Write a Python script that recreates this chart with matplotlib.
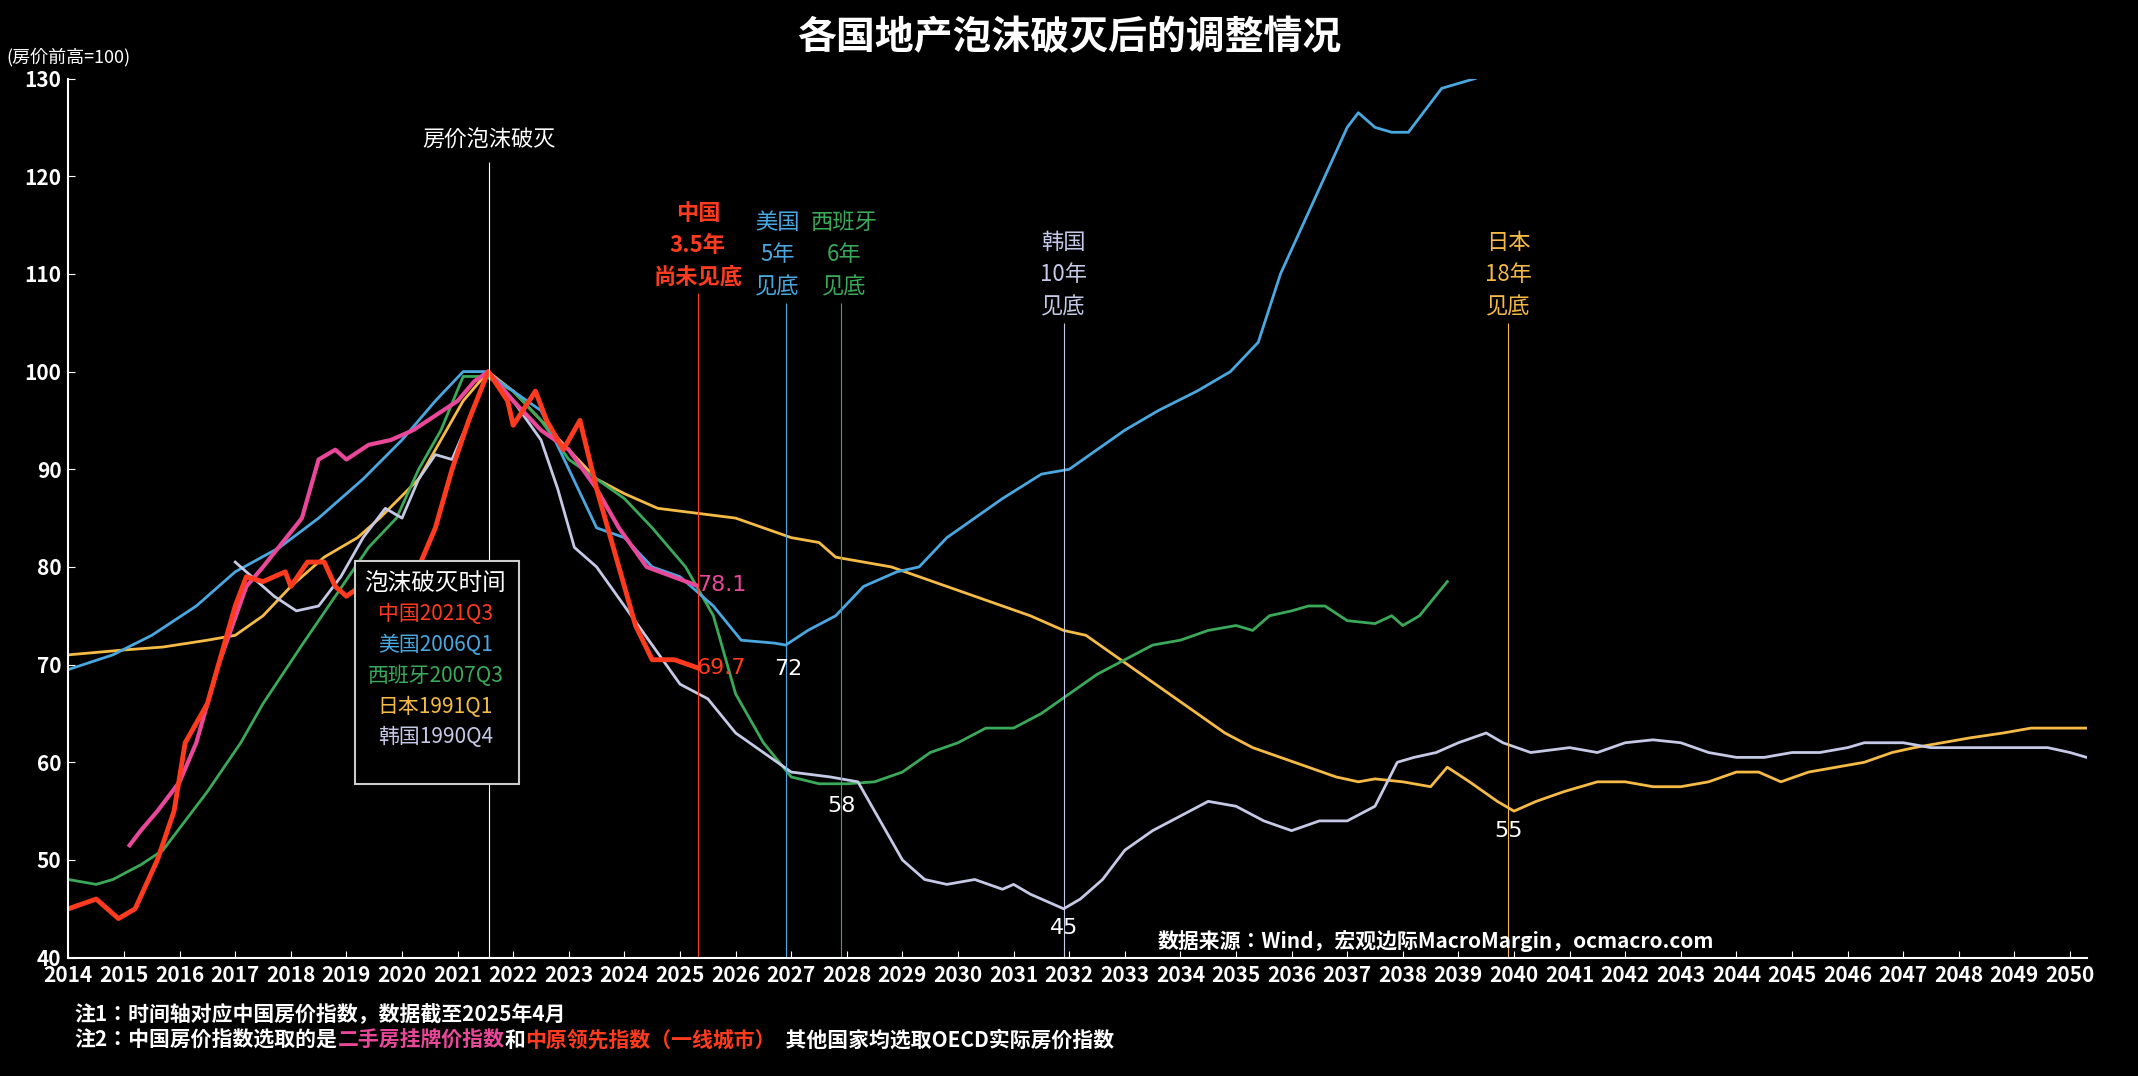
import matplotlib
matplotlib.use("Agg")
import matplotlib.pyplot as plt
from matplotlib import font_manager as fm
import glob, os

cjk_name = None
for pat in ["/usr/share/fonts/**/*CJK*SC*", "/usr/share/fonts/**/*CJK*", "/usr/share/fonts/**/*cjk*", "/usr/local/share/fonts/**/*CJK*", os.path.expanduser("~/.fonts/**/*CJK*")]:
    files = sorted(glob.glob(pat, recursive=True))
    files = [f for f in files if f.lower().endswith((".ttc", ".otf", ".ttf"))]
    if files:
        pref = [f for f in files if "Regular" in f or "Medium" in f] or files
        for f in pref:
            try:
                fm.fontManager.addfont(f)
                cjk_name = fm.FontProperties(fname=f).get_name()
                break
            except Exception:
                continue
    if cjk_name:
        break
if cjk_name is None:
    cjk_name = "Noto Sans CJK SC"
plt.rcParams["font.family"] = [cjk_name, "DejaVu Sans"]

cn_x = [2014,2014.5,2014.9,2015.2,2015.6,2015.9,2016.1,2016.5,2016.8,2017.0,2017.2,2017.5,2017.9,2018.0,2018.3,2018.6,2018.8,2019.0,2019.5,2020.0,2020.3,2020.6,2020.9,2021.2,2021.55,2021.9,2022.0,2022.4,2022.6,2022.9,2023.2,2023.5,2023.9,2024.2,2024.5,2024.9,2025.3]
cn_y = [45,46,44,45,50,55,62,66,72,76,79,78.5,79.5,78,80.5,80.5,78,77,79,79,80,84,90,95,100,97,94.5,98,95,92,95,88,80,74,70.5,70.5,69.7]
cnl_x = [2015.1,2015.3,2015.6,2016.0,2016.3,2016.7,2017.2,2017.5,2018.2,2018.5,2018.8,2019.0,2019.4,2019.8,2020.2,2020.6,2021.0,2021.3,2021.55,2022.0,2022.5,2023.0,2023.5,2023.9,2024.4,2025.3]
cnl_y = [51.5,53,55,58,62,70,78,80,85,91,92,91,92.5,93,94,95.5,97,99,100,97,94,92,88,84,80,78.1]
us_x = [2014,2014.8,2015.5,2016.3,2017.0,2017.8,2018.5,2019.3,2020.0,2020.6,2021.1,2021.5,2022.0,2022.5,2023.0,2023.5,2024.0,2024.5,2025.0,2025.6,2026.1,2026.7,2026.9,2027.3,2027.8,2028.3,2028.9,2029.3,2029.8,2030.3,2030.8,2031.5,2032.0,2032.5,2033.0,2033.6,2034.3,2034.9,2035.4,2035.8,2036.2,2036.6,2037.0,2037.2,2037.5,2037.8,2038.1,2038.3,2038.7,2039.3]
us_y = [69.5,71,73,76,79.5,82,85,89,93,97,100,100,98,96,90,84,83,80,79,76,72.5,72.2,72,73.5,75,78,79.5,80,83,85,87,89.5,90,92,94,96,98,100,103,110,115,120,125,126.5,125,124.5,124.5,126,129,130]
es_x = [2014,2014.5,2014.8,2015.3,2015.7,2016.1,2016.5,2017.1,2017.5,2018.2,2018.8,2019.4,2019.9,2020.3,2020.7,2021.1,2021.5,2022.0,2022.5,2023.0,2023.5,2024.0,2024.5,2025.1,2025.6,2026.0,2026.5,2027.0,2027.5,2028.0,2028.5,2029.0,2029.5,2030.0,2030.5,2031.0,2031.5,2032.0,2032.5,2033.0,2033.5,2034.0,2034.5,2035.0,2035.3,2035.6,2036.0,2036.3,2036.6,2037.0,2037.5,2037.8,2038.0,2038.3,2038.8]
es_y = [48,47.5,48,49.5,51,54,57,62,66,72,77,82,85,90,94,99.5,99.5,98,95,91,89,87,84,80,75,67,62,58.5,57.8,57.8,58,59,61,62,63.5,63.5,65,67,69,70.5,72,72.5,73.5,74,73.5,75,75.5,76,76,74.5,74.2,75,74,75,78.5]
jp_x = [2014,2015,2015.7,2016.5,2017.0,2017.5,2018.0,2018.6,2019.2,2019.6,2020.3,2020.7,2021.1,2021.55,2022.0,2022.5,2023.0,2023.5,2024.0,2024.6,2025.3,2026.0,2026.5,2027.0,2027.5,2027.8,2028.3,2028.8,2029.3,2029.8,2030.3,2030.8,2031.3,2031.9,2032.3,2032.8,2033.3,2033.8,2034.3,2034.8,2035.3,2035.8,2036.3,2036.8,2037.2,2037.5,2038.0,2038.5,2038.8,2039.2,2039.7,2040.0,2040.4,2040.9,2041.5,2042.0,2042.5,2043.0,2043.5,2044.0,2044.4,2044.8,2045.3,2045.8,2046.3,2046.8,2047.2,2047.7,2048.2,2048.8,2049.3,2050.0,2050.3]
jp_y = [71,71.5,71.8,72.5,73,75,78,81,83,85,89,93,97,100,98,95,92,89,87.5,86,85.5,85,84,83,82.5,81,80.5,80,79,78,77,76,75,73.5,73,71,69,67,65,63,61.5,60.5,59.5,58.5,58,58.3,58,57.5,59.5,58,56,55,56,57,58,58,57.5,57.5,58,59,59,58,59,59.5,60,61,61.5,62,62.5,63,63.5,63.5,63.5]
kr_x = [2017,2017.3,2017.7,2018.1,2018.5,2018.9,2019.3,2019.7,2020.0,2020.3,2020.6,2020.9,2021.2,2021.55,2022.0,2022.5,2022.8,2023.1,2023.5,2024.0,2024.5,2025.0,2025.5,2026.0,2026.5,2027.0,2027.7,2028.2,2028.5,2029.0,2029.4,2029.8,2030.3,2030.8,2031.0,2031.3,2031.7,2031.9,2032.2,2032.6,2033.0,2033.5,2034.0,2034.5,2035.0,2035.5,2036.0,2036.5,2037.0,2037.5,2037.9,2038.2,2038.6,2039.0,2039.5,2039.8,2040.3,2041.0,2041.5,2042.0,2042.5,2043.0,2043.5,2044.0,2044.5,2045.0,2045.5,2046.0,2046.3,2047.0,2047.5,2048.5,2049.0,2049.6,2050.0,2050.3]
kr_y = [80.5,79,77,75.5,76,79,83,86,85,89,91.5,91,95,100,97,93,88,82,80,76,72,68,66.5,63,61,59,58.5,58,55,50,48,47.5,48,47,47.5,46.5,45.5,45,46,48,51,53,54.5,56,55.5,54,53,54,54,55.5,60,60.5,61,62,63,62,61,61.5,61,62,62.3,62,61,60.5,60.5,61,61,61.5,62,62,61.5,61.5,61.5,61.5,61,60.5]
years = list(range(2014, 2051))

RED, PINK, BLUE, GREEN, GOLD, LAV = "#ff3b1f", "#e8479a", "#4aa8e0", "#3aa95a", "#f5bb45", "#c5c9e6"

fig = plt.figure(figsize=(21.38, 10.76), dpi=100, facecolor="black")
ax = fig.add_axes([0.032, 0.110, 0.944, 0.817], facecolor="black")
ax.set_xlim(2014, 2050.3); ax.set_ylim(40, 130)
for s in ["top", "right"]: ax.spines[s].set_visible(False)
for s in ["left", "bottom"]: ax.spines[s].set_color("white"); ax.spines[s].set_linewidth(1.5)
ax.set_xticks(years); ax.set_yticks(range(40, 131, 10))
ax.tick_params(colors="white", labelsize=15, length=5, direction="in", pad=5)
for t in ax.get_xticklabels() + ax.get_yticklabels():
    t.set_fontweight("bold")

ax.plot(jp_x, jp_y, color=GOLD, lw=2)
ax.plot(es_x, es_y, color=GREEN, lw=2)
ax.plot(us_x, us_y, color=BLUE, lw=2)
ax.plot(kr_x, kr_y, color=LAV, lw=2)
ax.plot(cnl_x, cnl_y, color=PINK, lw=3)
ax.plot(cn_x, cn_y, color=RED, lw=3.5)

ax.vlines(2021.57, 40, 121.5, color="white", lw=0.8)
ax.text(2021.57, 123, "房价泡沫破灭", color="white", ha="center", fontsize=16)
ax.vlines(2025.32, 40, 108, color=RED, lw=0.8)
ax.text(2025.32, 109, "中国\n3.5年\n尚未见底", color=RED, ha="center", fontsize=16, fontweight="bold", linespacing=1.5)
ax.vlines(2026.9, 40, 107, color=BLUE, lw=0.8)
ax.text(2026.75, 108, "美国\n5年\n见底", color=BLUE, ha="center", fontsize=16, linespacing=1.5)
ax.vlines(2027.9, 40, 107, color=GREEN, lw=0.8)
ax.text(2027.95, 108, "西班牙\n6年\n见底", color=GREEN, ha="center", fontsize=16, linespacing=1.5)
ax.vlines(2031.9, 40, 105, color=LAV, lw=0.8)
ax.text(2031.9, 106, "韩国\n10年\n见底", color=LAV, ha="center", fontsize=16, linespacing=1.5)
ax.vlines(2039.9, 40, 105, color=GOLD, lw=0.8)
ax.text(2039.9, 106, "日本\n18年\n见底", color=GOLD, ha="center", fontsize=16, linespacing=1.5)

ax.text(2025.3, 78.1, "78.1", color=PINK, fontsize=16, va="center", fontfamily="DejaVu Sans")
ax.text(2025.3, 69.7, "69.7", color=RED, fontsize=16, va="center", fontfamily="DejaVu Sans")
ax.text(2026.95, 69.5, "72", color="white", fontsize=16, ha="center", va="center", fontfamily="DejaVu Sans")
ax.text(2027.9, 55.5, "58", color="white", fontsize=16, ha="center", va="center", fontfamily="DejaVu Sans")
ax.text(2031.9, 43, "45", color="white", fontsize=16, ha="center", va="center", fontfamily="DejaVu Sans")
ax.text(2039.9, 53, "55", color="white", fontsize=16, ha="center", va="center", fontfamily="DejaVu Sans")

leg = [("泡沫破灭时间", "white"), ("中国2021Q3", RED), ("美国2006Q1", BLUE),
       ("西班牙2007Q3", GREEN), ("日本1991Q1", GOLD), ("韩国1990Q4", LAV)]
ax.add_patch(plt.Rectangle((2019.15, 57.8), 2.95, 22.8, fill=True, facecolor="black",
                           edgecolor="#cccccc", lw=1.5, zorder=5))
for i, (t, c) in enumerate(leg):
    ax.text(2020.6, 78.3 - i * 3.15, t, color=c, ha="center", va="center",
            fontsize=17 if i == 0 else 15, zorder=6)

ax.text(2038.6, 41.0, "数据来源：Wind，宏观边际MacroMargin，ocmacro.com", color="white",
        ha="center", fontsize=15, fontweight="bold")

fig.text(0.5, 0.965, "各国地产泡沫破灭后的调整情况", color="white", ha="center", va="center",
         fontsize=28, fontweight="bold")
fig.text(0.003, 0.947, "(房价前高=100)", color="white", fontsize=13, va="center")
fig.text(0.035, 0.057, "注1：时间轴对应中国房价指数，数据截至2025年4月", color="white", fontsize=15, va="center", fontweight="bold")
y2 = 0.033
parts = [("注2：中国房价指数选取的是", "white"), ("二手房挂牌价指数", PINK), ("和", "white"),
         ("中原领先指数（一线城市）", RED), ("  其他国家均选取OECD实际房价指数", "white")]
fig.canvas.draw()
r = fig.canvas.get_renderer()
x = 0.035
for t, c in parts:
    tx = fig.text(x, y2, t, color=c, fontsize=15, va="center", fontweight="bold")
    x += tx.get_window_extent(r).width / fig.bbox.width

fig.savefig("out.png", dpi=100, facecolor="black")
